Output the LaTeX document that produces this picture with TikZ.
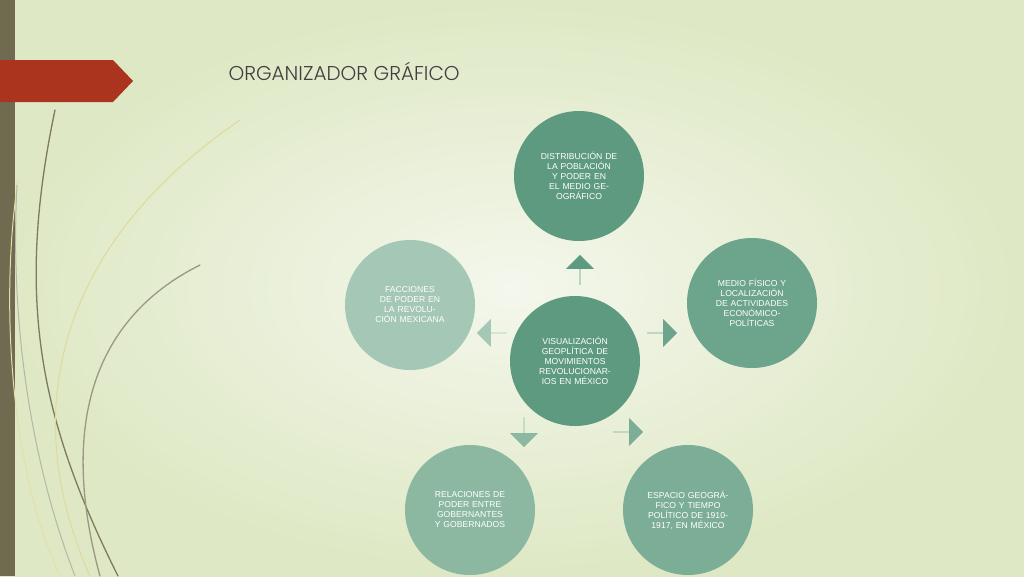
\documentclass[tikz,border=0pt]{standalone}
\usepackage{fontspec}
\setmainfont{Liberation Sans}
\newfontfamily\titlefont{Poppins Light}
\usetikzlibrary{shapes.arrows, positioning}
\definecolor{bgpale}{RGB}{244,247,236}
\definecolor{bgedge}{RGB}{222,232,196}
\definecolor{barolive}{RGB}{112,106,80}
\definecolor{tabred}{RGB}{170,52,30}
\definecolor{greenA}{RGB}{94,154,128}
\definecolor{greenB}{RGB}{108,164,140}
\definecolor{greenC}{RGB}{124,174,151}
\definecolor{greenD}{RGB}{140,184,162}
\definecolor{greenE}{RGB}{165,199,181}
\tikzset{
  bubble/.style={circle, minimum size=130pt, inner sep=0pt, text width=84pt, align=center,
    text=white, font=\fontsize{8.6}{10}\selectfont},
  blockarrow/.style={single arrow, single arrow head extend=8pt, minimum height=30pt,
    minimum width=28pt, inner sep=0pt, draw=none},
  swoosh/.style={line width=1.3pt, line cap=round}
}
\begin{document}
\begin{tikzpicture}[x=1pt,y=-1pt]
  % background
  \shade[inner color=bgpale, outer color=bgedge] (0,0) rectangle (1024,576);
  \useasboundingbox (0,0) rectangle (1024,576);
  \fill[barolive] (0,0) rectangle (15,576);
  \fill[tabred] (0,60) -- (113,60) -- (133,81) -- (113,102) -- (0,102) -- cycle;

  % decorative swooshes
  \draw[swoosh, barolive!90] (118,576) .. controls (40,420) and (15,300) .. (55,110);
  \draw[swoosh, barolive!70] (100,576) .. controls (60,430) and (90,320) .. (200,265);
  \draw[swoosh, olive!30, line width=1pt] (90,576) .. controls (20,420) and (50,250) .. (240,120);
  \draw[swoosh, olive!25, line width=1pt] (60,576) .. controls (10,470) and (0,300) .. (18,180);
  \draw[swoosh, barolive!50, line width=1pt] (75,576) .. controls (30,460) and (10,320) .. (17,185);

  \node[anchor=west, font=\titlefont\fontsize{20}{24}\selectfont, text=black!75] (title) at (225,71) {ORGANIZADOR GRÁFICO};

  % circles
  \node (centre) [bubble, fill=greenA] at (575,361) {VISUALIZACIÓN GEOPLÍTICA DE MOVIMIENTOS REVOLUCIONARIOS EN MÉXICO};
  \node (top) [bubble, fill=greenA] at (579,176) {DISTRIBUCIÓN DE LA POBLACIÓN Y PODER EN EL MEDIO GEOGRÁFICO\\[22pt]};
  \node (right) [bubble, fill=greenB] at (752,303) {MEDIO FÍSICO Y LOCALIZACIÓN DE ACTIVIDADES ECONÓMICO-POLÍTICAS};
  \node (left) [bubble, fill=greenE] at (410,305) {FACCIONES DE PODER EN LA REVOLUCIÓN MEXICANA\\[12pt]};
  \node (botleft) [bubble, fill=greenD] at (470,510) {RELACIONES DE PODER ENTRE GOBERNANTES Y GOBERNADOS\\[12pt]};
  \node (botright) [bubble, fill=greenC] at (688,510) {ESPACIO GEOGRÁFICO Y TIEMPO POLÍTICO DE 1910-1917,  EN MÉXICO\\[12pt]};

  % arrows
  \node (upArrow) [blockarrow, fill=greenA, shape border rotate=90] at (580,270) {};
  \node (leftArrow) [blockarrow, fill=greenE, shape border rotate=162] at (492,333) {};
  \node (rightArrow) [blockarrow, fill=greenB, shape border rotate=18] at (662,333) {};
  \node (blArrow) [blockarrow, fill=greenD, shape border rotate=235] at (524,432) {};
  \node (brArrow) [blockarrow, fill=greenC, shape border rotate=-55] at (628,432) {};
\end{tikzpicture}
\end{document}
